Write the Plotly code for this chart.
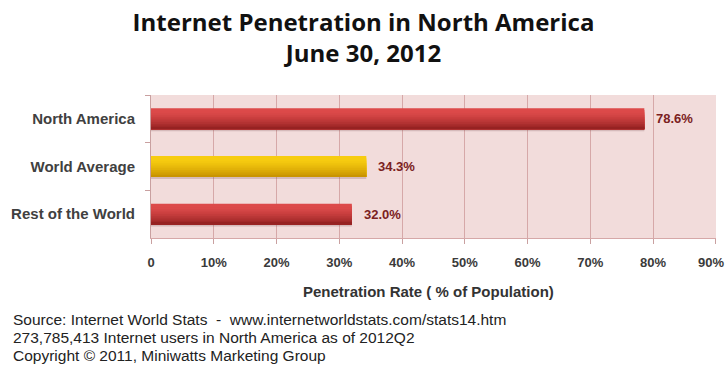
import plotly.graph_objects as go

categories = ["North America", "World Average", "Rest of the World"]
values = [78.6, 34.3, 32.0]
labels = ["78.6%", "34.3%", "32.0%"]
bar_tops = ["#dc4a4a", "#f7cc10", "#dc4a4a"]
bar_bottoms = ["#962222", "#c99400", "#962222"]
tick_vals = [0, 10, 20, 30, 40, 50, 60, 70, 80, 90]
tick_text = ["0", "10%", "20%", "30%", "40%", "50%", "60%", "70%", "80%", "90%"]
source_lines = [
    "Source: Internet World Stats  -  www.internetworldstats.com/stats14.htm",
    "273,785,413 Internet users in North America as of 2012Q2",
    "Copyright \u00a9 2011, Miniwatts Marketing Group",
]

W, H = 727, 365
L, R, T, B = 151, 716, 95, 238


def hex2rgb(h):
    h = h.lstrip("#")
    return [int(h[i:i + 2], 16) for i in (0, 2, 4)]


def mix(a, b, t):
    ca, cb = hex2rgb(a), hex2rgb(b)
    c = [round(ca[k] + (cb[k] - ca[k]) * t) for k in range(3)]
    return "rgb(%d,%d,%d)" % tuple(c)


fig = go.Figure()

# soft shadow under each bar
fig.add_trace(go.Bar(
    y=categories, x=values, orientation="h", width=0.06, offset=0.2,
    marker=dict(color="rgba(110,70,70,0.22)", line=dict(width=0)), hoverinfo="skip",
))

bar_w = 0.44
n = 12
band = bar_w / n
for i in range(n):
    t = i / (n - 1)
    tt = max(0.0, (t - 0.15) / 0.85) ** 1.3
    cols = [mix(a, b, tt) for a, b in zip(bar_tops, bar_bottoms)]
    off = -bar_w / 2 + i * band
    fig.add_trace(go.Bar(
        y=categories, x=values, orientation="h",
        width=bar_w / 2 - off, offset=off,
        marker=dict(color=cols, line=dict(width=0)), hoverinfo="skip",
    ))

for c, v, t in zip(categories, values, labels):
    fig.add_annotation(x=v, y=c, text="<b>" + t + "</b>", showarrow=False,
                       xanchor="left", xshift=10,
                       font=dict(family="Liberation Sans, Arial", size=13, color="#7b2121"))


def px_x(p):
    return (p - L) / (R - L)


def px_y(p):
    return (B - p) / (B - T)


tick_font = dict(family="Liberation Sans, Arial", size=13, color="#3a3a3a", weight="bold")

# last tick label sits at the right page edge: draw it right-aligned so it stays whole
axis_text = tick_text[:-1] + [""]
fig.add_annotation(x=tick_vals[-1], xref="x", yref="paper", y=px_y(262),
                   text=tick_text[-1], showarrow=False, xanchor="right", yanchor="middle",
                   xshift=W - R - 1, font=tick_font)

for i, line in enumerate(source_lines):
    fig.add_annotation(xref="paper", yref="paper", x=px_x(11), y=px_y(319.5 + 18 * i),
                       text=line, showarrow=False, xanchor="left", yanchor="middle",
                       font=dict(family="Liberation Sans, Arial", size=15.5, color="#222222"))

fig.add_annotation(xref="paper", yref="paper", x=px_x(428), y=px_y(291),
                   text="<b>Penetration Rate ( % of Population)</b>", showarrow=False,
                   xanchor="center", yanchor="middle",
                   font=dict(family="Liberation Sans, Arial", size=15, color="#333333"))

fig.update_layout(
    width=W, height=H,
    margin=dict(l=L, r=W - R, t=T, b=H - B, pad=0, autoexpand=False),
    paper_bgcolor="white", plot_bgcolor="#f2dcdb",
    showlegend=False, barmode="overlay",
    title=dict(text="<b>Internet Penetration in North America<br>June 30, 2012</b>",
               x=0.5, xanchor="center", y=1 - 31 / H, yanchor="middle",
               font=dict(family="Open Sans, Noto Sans, Liberation Sans", size=24, color="#111111")),
    xaxis=dict(range=[0, 90.02], tickvals=tick_vals, ticktext=axis_text, automargin=False,
               showgrid=True, gridcolor="#d6a8a8", gridwidth=1,
               zeroline=False, showline=True, linecolor="#d6a8a8", mirror=False,
               ticks="outside", ticklen=5, tickcolor="#c9a0a0", ticklabelstandoff=7,
               tickfont=tick_font, fixedrange=True),
    yaxis=dict(autorange="reversed", tickson="boundaries", ticks="outside", ticklen=5,
               automargin=False,
               tickcolor="#c9a0a0", showline=True, linecolor="#c9a0a0", showgrid=False,
               tickfont=dict(family="Liberation Sans, Arial", size=15, color="#404040", weight="bold"),
               ticklabelstandoff=12, fixedrange=True),
)

fig.write_html("out.html", config={"displayModeBar": False},
               post_script="document.body.style.margin='0';document.body.style.overflow='hidden';")
